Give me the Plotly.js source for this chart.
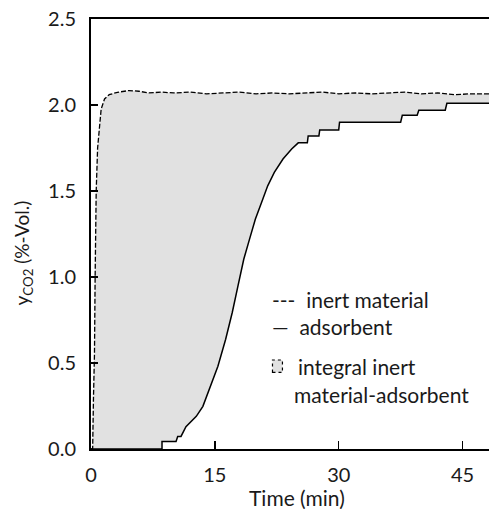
<!DOCTYPE html>
<html>
<head>
<meta charset="utf-8">
<script src="https://cdn.plot.ly/plotly-3.0.1.min.js"></script>
<style>html,body{margin:0;padding:0;background:#fff;}#chart{width:489px;height:509px;}</style>
</head>
<body>
<div id="chart"></div>
<script>
// Inert material (dashed) breakthrough curve
const inertTime = [0, 0.2, 0.3, 0.42, 0.5, 0.63, 0.8, 1.03, 1.23, 1.64, 2.2, 3.2, 4.6, 5.8, 7, 8.5, 10, 12, 14, 16, 18, 20, 22, 24, 26, 28, 30, 32, 34, 36, 38, 40, 42, 44, 46, 48.5];
const inertY    = [0, 0, 0.3, 0.55, 1.0, 1.5, 1.75, 1.89, 1.977, 2.035, 2.06, 2.074, 2.084, 2.08, 2.07, 2.075, 2.07, 2.075, 2.065, 2.07, 2.075, 2.065, 2.07, 2.065, 2.07, 2.075, 2.065, 2.07, 2.065, 2.07, 2.075, 2.065, 2.07, 2.06, 2.065, 2.065];

// Adsorbent (solid) breakthrough curve
const adsTime = [0, 8.6, 8.6, 10.3, 10.5, 10.9, 11.5, 12.1, 12.75, 13.55, 14.16, 14.76, 15.37, 16.3, 17.1, 17.8, 18.5, 19.2, 19.9, 20.8, 21.4, 22.2, 23.25, 24.3, 25.1, 26.2, 26.3, 27.6, 27.7, 30.0, 30.1, 37.5, 37.7, 39.5, 39.7, 42.9, 43.1, 48.5];
const adsY    = [0, 0, 0.044, 0.044, 0.073, 0.073, 0.13, 0.16, 0.19, 0.248, 0.326, 0.404, 0.481, 0.637, 0.792, 0.948, 1.103, 1.22, 1.336, 1.452, 1.53, 1.608, 1.686, 1.744, 1.78, 1.78, 1.82, 1.82, 1.855, 1.855, 1.90, 1.90, 1.94, 1.94, 1.97, 1.97, 2.01, 2.01];

const xTicks = [0, 15, 30, 45];
const yTicks = [0.0, 0.5, 1.0, 1.5, 2.0, 2.5];

const FONT = 'Lato, "Open Sans", sans-serif';
const TXT = '#1a1a1a';

const traces = [
  {x: inertTime, y: inertY, mode: 'lines', line: {color: '#000', width: 1.3, dash: '5px,2px'}, hoverinfo: 'skip'},
  {x: adsTime, y: adsY, mode: 'lines', line: {color: '#000', width: 1.5}, fill: 'tonexty', fillcolor: '#e1e1e1', hoverinfo: 'skip'}
];

const layout = {
  width: 489, height: 509,
  margin: {l: 91, r: 0, t: 19, b: 60},
  showlegend: false,
  paper_bgcolor: '#fff', plot_bgcolor: '#fff',
  font: {family: FONT, size: 20, color: TXT},
  xaxis: {
    range: [0, 48.2], tickvals: xTicks, ticktext: xTicks.map(String),
    ticks: 'inside', ticklen: 8, tickwidth: 1.5, tickcolor: '#000',
    showline: true, linecolor: '#000', linewidth: 2, mirror: true,
    showgrid: false, zeroline: false,
    tickfont: {family: FONT, size: 20, color: TXT}, ticklabelstandoff: 7
  },
  yaxis: {
    range: [0, 2.5], tickvals: yTicks, ticktext: yTicks.map(v => v.toFixed(1)),
    ticks: 'inside', ticklen: 7, tickwidth: 1.5, tickcolor: '#000',
    showline: true, linecolor: '#000', linewidth: 2,
    showgrid: false, zeroline: false,
    tickfont: {family: FONT, size: 20, color: TXT}, ticklabelstandoff: 9
  },
  annotations: [
    {xref: 'paper', yref: 'paper', x: 0.517, y: -0.113, text: 'Time (min)', showarrow: false, xanchor: 'center', yanchor: 'middle', font: {size: 21}},
    {xref: 'paper', yref: 'paper', x: -0.172, y: 0.456, text: 'y<sub>CO2</sub> (%-Vol.)', textangle: -90, showarrow: false, xanchor: 'center', yanchor: 'middle', font: {size: 19}},
    {xref: 'paper', yref: 'paper', x: 0.451, y: 0.347, text: '---  inert material', showarrow: false, xanchor: 'left', yanchor: 'middle', font: {size: 21}},
    {xref: 'paper', yref: 'paper', x: 0.451, y: 0.284, text: '—  adsorbent', showarrow: false, xanchor: 'left', yanchor: 'middle', font: {size: 21}},
    {xref: 'paper', yref: 'paper', x: 0.516, y: 0.191, text: 'integral inert', showarrow: false, xanchor: 'left', yanchor: 'middle', font: {size: 21}},
    {xref: 'paper', yref: 'paper', x: 0.504, y: 0.126, text: 'material-adsorbent', showarrow: false, xanchor: 'left', yanchor: 'middle', font: {size: 21}}
  ],
  shapes: [
    {type: 'rect', xref: 'paper', yref: 'paper', x0: 0.456, x1: 0.481, y0: 0.178, y1: 0.207, fillcolor: '#e1e1e1', line: {color: '#000', width: 1.2, dash: 'dot'}}
  ]
};

Plotly.newPlot('chart', traces, layout, {displayModeBar: false, staticPlot: true});
</script>
</body>
</html>
